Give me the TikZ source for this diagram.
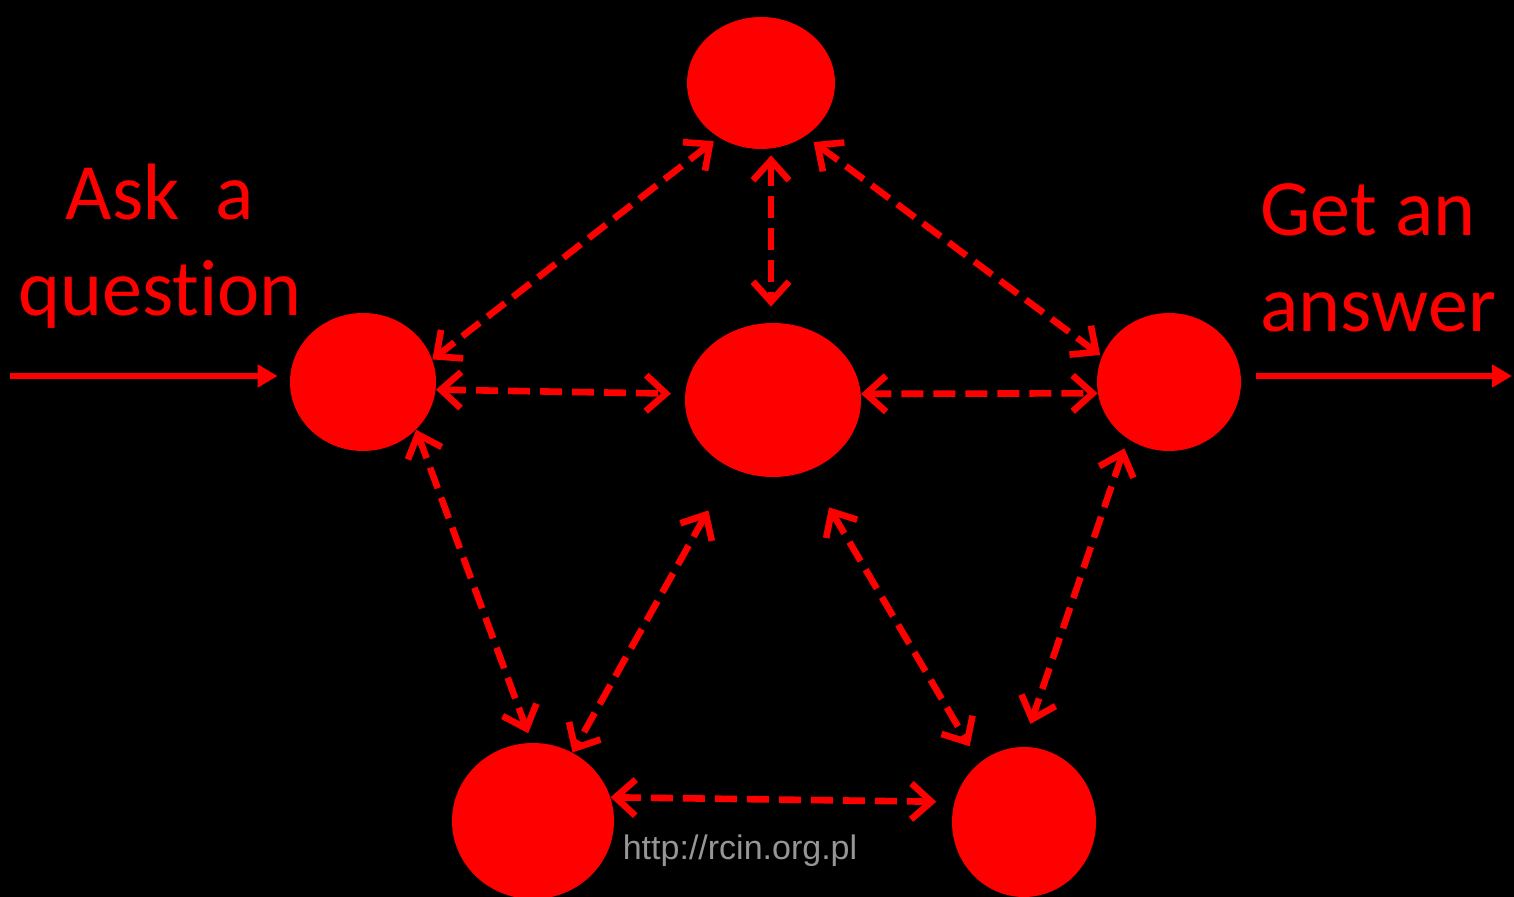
\documentclass[tikz,border=0pt]{standalone}
\usepackage{fontspec}
\setmainfont[Ligatures=NoCommon]{Carlito}
\newfontfamily\wmfont{Liberation Sans}
\usepackage{tikz}
\usetikzlibrary{shapes.geometric,arrows.meta,positioning,calc}
\definecolor{wmgray}{RGB}{150,150,150}
\tikzset{
  bubble/.style={ellipse, fill=red, draw=none, inner sep=0pt},
  sidetext/.style={text=red, inner sep=0pt, font=\fontsize{40}{48}\selectfont},
  dasharr/.style={{Straight Barb[length=10pt,width=18pt]}-{Straight Barb[length=10pt,width=18pt]},
                  draw=red, line width=3.3pt, dash pattern=on 11pt off 5pt},
  solidarr/.style={-{Triangle[length=10pt,width=11pt]}, draw=red, line width=3pt},
}
\begin{document}
\begin{tikzpicture}[x=0.5pt,y=-0.5pt]
    \fill[black] (0,0) rectangle (1514,897);
    \useasboundingbox (0,0) rectangle (1514,897);
    \node[bubble, minimum width=74pt, minimum height=66pt] (t) at (761,83) {};
    \node[bubble, minimum width=73pt, minimum height=69pt] (l) at (363,382) {};
    \node[bubble, minimum width=88pt, minimum height=77pt] (c) at (773,400) {};
    \node[bubble, minimum width=72pt, minimum height=69pt] (r) at (1169,382) {};
    \node[bubble, minimum width=81pt, minimum height=78pt] (bl) at (533,821) {};
    \node[bubble, minimum width=72pt, minimum height=75pt] (br) at (1024,822) {};
    % question in, answer out
    \node[sidetext, align=center] (ask) at (160,246) {Ask~~a\\question};
    \node[sidetext, align=left, anchor=west] (get) at (1260,258) {Get an\\answer};
    \coordinate (qin) at (10,376);
    \coordinate (aout) at (1512,376);
    \draw[solidarr, shorten >=6pt] (qin) -- ([yshift=3pt]l.west);
    \draw[solidarr, shorten <=7.5pt] ([yshift=3pt]r.east) -- (aout);
    % links between the nodes
    \draw[dasharr, shorten <=3pt] (t.232) -- (l.18);
    \draw[dasharr, shorten <=3pt, shorten >=8pt] ([xshift=5pt]t.south) -- ([xshift=-1pt]c.north);
    \draw[dasharr, shorten <=5pt, shorten >=1pt] (t.310) -- (r.159);
    \draw[dasharr, shorten >=7pt] (l.354) -- (c.176);
    \draw[dasharr] (c.4) -- (r.189);
    \draw[dasharr, shorten >=5pt] (l.318) -- (bl.91);
    \draw[dasharr, shorten <=24pt] (c.239) -- (bl.60);
    \draw[dasharr, shorten <=21pt, shorten >=9.5pt] (c.296) -- (br.127);
    \draw[dasharr, shorten <=5pt, shorten >=12pt] (r.234) -- (br.91);
    \draw[dasharr, shorten >=9pt] (bl.17) -- (br.164);
    \node[text=wmgray, inner sep=0pt, font=\wmfont\fontsize{17}{20}\selectfont] (wm) at (740,851) {http://rcin.org.pl};
\end{tikzpicture}
\end{document}
